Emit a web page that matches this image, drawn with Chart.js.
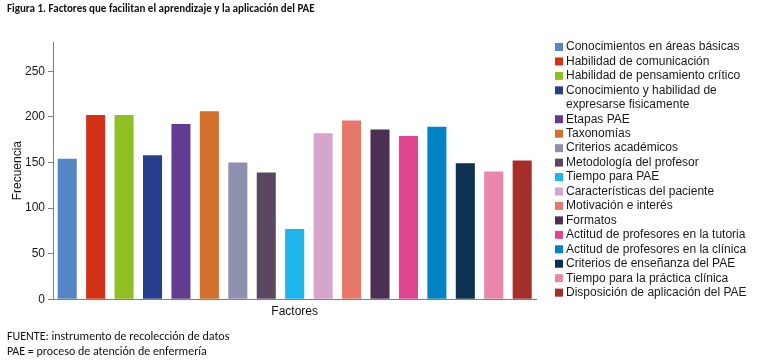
<!DOCTYPE html>
<html lang="es">
<head>
<meta charset="utf-8">
<title>Figura 1. Factores que facilitan el aprendizaje y la aplicación del PAE</title>
<script src="https://cdn.jsdelivr.net/npm/chart.js@4.4.1/dist/chart.umd.min.js"></script>
<style>
  html, body { margin: 0; padding: 0; background: #fff; }
  #page { position: relative; width: 757px; height: 363px; overflow: hidden; }
  #chart { position: absolute; left: 0; top: 0; }
  .fig-title {
    position: absolute; left: 7px; top: 2px;
    font: bold 11px 'Carlito', 'Open Sans', sans-serif;
    color: #111; white-space: nowrap;
  }
  .note {
    position: absolute; left: 7px;
    font: 12px 'Carlito', 'Open Sans', sans-serif;
    color: #111; white-space: nowrap;
  }
</style>
</head>
<body>
<div id="page">
  <canvas id="chart" width="757" height="363"></canvas>
  <div class="fig-title">Figura 1. Factores que facilitan el aprendizaje y la aplicación del PAE</div>
  <div class="note" style="top:329px">FUENTE: instrumento de recolección de datos</div>
  <div class="note" style="top:344px">PAE = proceso de atención de enfermería</div>
</div>
<script>
// data
const factores = [
  'Conocimientos en áreas básicas',
  'Habilidad de comunicación',
  'Habilidad de pensamiento crítico',
  'Conocimiento y habilidad de\nexpresarse fisicamente',
  'Etapas PAE',
  'Taxonomías',
  'Criterios académicos',
  'Metodología del profesor',
  'Tiempo para PAE',
  'Características del paciente',
  'Motivación e interés',
  'Formatos',
  'Actitud de profesores en la tutoria',
  'Actitud de profesores en la clínica',
  'Criterios de enseñanza del PAE',
  'Tiempo para la práctica clínica',
  'Disposición de aplicación del PAE'
];
const frecuencias = [154, 202, 202, 158, 192, 206, 150, 139, 77, 182, 196, 186, 179, 189, 149, 140, 152];
const colores = [
  '#5585c5', '#d23218', '#8fbf22', '#253f8e', '#613c91', '#d2702c',
  '#9090b0', '#5a4862', '#1db5ea', '#d5a5cb', '#e9786c', '#4b3052',
  '#e04590', '#0084c3', '#0c3152', '#e987ac', '#a52f28'
];
const yTicks = [0, 50, 100, 150, 200, 250];
const yMax = 282;

const FONT = "'Liberation Sans', Arial, sans-serif";
const AXIS = '#808080';

// legend on the right, one square per factor (multi-line names allowed)
const sideLegend = {
  id: 'sideLegend',
  afterDraw(chart) {
    const ctx = chart.ctx;
    const x = chart.chartArea.right + 18.6;
    let y = 47;
    ctx.save();
    ctx.font = '12px ' + FONT;
    ctx.textBaseline = 'middle';
    chart.data.labels.forEach((name, i) => {
      const lines = name.split('\n');
      ctx.fillStyle = colores[i];
      ctx.fillRect(x, y - 4, 8, 8);
      ctx.fillStyle = '#1a1a1a';
      lines.forEach((ln, k) => ctx.fillText(ln, x + 11, y + k * 14.45));
      y += lines.length * 14.45;
    });
    ctx.restore();
  }
};

new Chart(document.getElementById('chart'), {
  type: 'bar',
  data: {
    labels: factores,
    datasets: [{
      label: 'Frecuencia',
      data: frecuencias,
      backgroundColor: colores,
      borderWidth: 0,
      categoryPercentage: 1,
      barPercentage: 0.67
    }]
  },
  options: {
    responsive: false,
    animation: false,
    devicePixelRatio: 1,
    layout: { padding: { top: 42, right: 220.6, bottom: 44.3, left: 0 } },
    plugins: {
      legend: { display: false },
      tooltip: { enabled: false }
    },
    scales: {
      x: {
        grid: { display: false, drawTicks: false },
        border: { color: AXIS, width: 1 },
        ticks: { display: false },
        title: {
          display: true, text: 'Factores', color: '#111',
          font: { family: FONT, size: 12 },
          padding: { top: 5, bottom: 0 }
        }
      },
      y: {
        min: 0,
        max: yMax,
        afterFit: s => { s.width = 53; },
        afterBuildTicks: s => { s.ticks = yTicks.map(v => ({ value: v })); },
        grid: { drawOnChartArea: false, tickLength: 5, color: AXIS },
        border: { color: AXIS, width: 1 },
        ticks: { padding: 3, color: '#1a1a1a', font: { family: FONT, size: 12 } },
        title: {
          display: true, text: 'Frecuencia', color: '#111',
          font: { family: FONT, size: 12 },
          padding: { top: 10.3, bottom: 0 }
        }
      }
    }
  },
  plugins: [sideLegend]
});
</script>
</body>
</html>
